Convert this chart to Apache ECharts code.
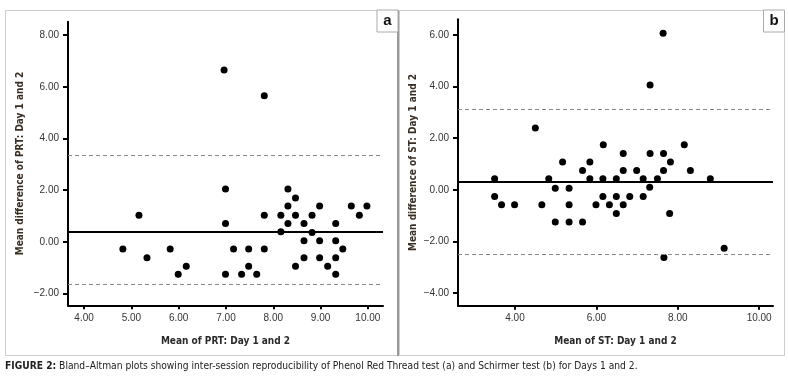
<!DOCTYPE html>
<html>
<head>
<meta charset="utf-8">
<title>Bland–Altman plots</title>
<script src="https://cdn.jsdelivr.net/npm/echarts@6/dist/echarts.min.js"></script>
<style>
  html, body { margin: 0; padding: 0; background: #fff; }
  #chart { width: 788px; height: 382px; }
</style>
</head>
<body>
<div id="chart"></div>
<script>
// Panel a: Phenol Red Thread test
const prtMean = [4.82, 5.16, 5.33, 5.82, 5.99, 6.16, 6.96, 7.81, 6.99, 6.99, 6.99, 7.16, 7.33, 7.48, 7.48,
  7.65, 7.81, 7.81, 8.16, 8.16, 8.31, 8.31, 8.31, 8.47, 8.47, 8.47, 8.65, 8.65, 8.65, 8.82, 8.82,
  8.98, 8.98, 8.98, 9.15, 9.32, 9.32, 9.32, 9.32, 9.47, 9.65, 9.82, 9.98];
const prtDiff = [-0.28, 1.03, -0.62, -0.28, -1.26, -0.95, 6.65, 5.65, 2.04, 0.71, -1.26, -0.28, -1.26, -0.28, -0.95,
  -1.26, 1.03, -0.28, 1.03, 0.39, 2.04, 1.38, 0.71, 1.69, 1.03, -0.95, 0.71, 0.04, -0.62, 1.03, 0.36,
  1.38, 0.04, -0.62, -0.95, 0.71, 0.04, -0.62, -1.26, -0.28, 1.38, 1.03, 1.38];
const prtBias = 0.39;
const prtLimits = [3.36, -1.65];
const prtXTicks = [4, 5, 6, 7, 8, 9, 10];
const prtYTicks = [-2, 0, 2, 4, 6, 8];

// Panel b: Schirmer test
const stMean = [7.64, 7.32, 4.50, 6.17, 8.16, 6.66, 7.32, 7.65, 5.17, 5.84, 7.82, 5.66, 6.66, 6.99, 7.65,
  8.31, 3.50, 4.83, 5.84, 6.16, 6.49, 7.15, 7.50, 8.80, 7.31, 4.99, 5.33, 3.50, 6.16, 6.49, 6.82,
  7.15, 3.67, 3.99, 4.66, 5.33, 5.99, 6.32, 6.66, 6.49, 7.80, 4.99, 5.33, 5.66, 9.14, 7.66];
const stDiff = [6.07, 4.06, 2.40, 1.75, 1.75, 1.41, 1.41, 1.41, 1.08, 1.08, 1.08, 0.75, 0.75, 0.75, 0.75,
  0.75, 0.43, 0.43, 0.43, 0.43, 0.43, 0.43, 0.43, 0.43, 0.10, 0.06, 0.06, -0.26, -0.26, -0.26, -0.26,
  -0.26, -0.58, -0.58, -0.58, -0.58, -0.58, -0.58, -0.58, -0.92, -0.92, -1.25, -1.25, -1.25, -2.26, -2.62];
const stBias = 0.32;
const stLimits = [3.12, -2.49];
const stXTicks = [4, 6, 8, 10];
const stYTicks = [-4, -2, 0, 2, 4, 6];

const xTitles = ['Mean of PRT: Day 1 and 2', 'Mean of ST: Day 1 and 2'];
const yTitles = ['Mean difference of PRT: Day 1 and 2', 'Mean difference of ST: Day 1 and 2'];
const caption = 'Bland\u2013Altman plots showing inter-session reproducibility of Phenol Red Thread test (a) and Schirmer test (b) for Days 1 and 2.';

const FONT = "'Liberation Sans Narrow', 'DejaVu Sans Condensed', 'Liberation Sans', sans-serif";
const LABEL_FONT = "'Liberation Sans', sans-serif";

function pairs(xs, ys) {
  return xs.map((x, i) => [x, ys[i]]);
}

function xAxisFor(idx, min, max, ticks) {
  return {
    gridIndex: idx,
    type: 'value',
    min: min,
    max: max,
    name: xTitles[idx],
    nameLocation: 'middle',
    nameGap: 31,
    nameTextStyle: { color: '#2a2a2a', fontSize: 10, fontWeight: 'bold', fontFamily: FONT },
    axisLine: { show: true, onZero: false, lineStyle: { color: '#000', width: 2 } },
    axisTick: { show: true, length: 4, customValues: ticks, lineStyle: { color: '#000', width: 2 } },
    axisLabel: {
      customValues: ticks,
      margin: 8,
      color: '#333',
      fontSize: 10,
      fontFamily: LABEL_FONT,
      formatter: v => v.toFixed(2)
    },
    splitLine: { show: false }
  };
}

function yAxisFor(idx, min, max, ticks, gap) {
  return {
    gridIndex: idx,
    type: 'value',
    min: min,
    max: max,
    name: yTitles[idx],
    nameLocation: 'middle',
    nameGap: gap,
    nameRotate: 90,
    nameTextStyle: { color: '#3a2f25', fontSize: 10, fontWeight: 'bold', fontFamily: FONT },
    axisLine: { show: true, onZero: false, lineStyle: { color: '#000', width: 2 } },
    axisTick: { show: true, length: 5, customValues: ticks, lineStyle: { color: '#000', width: 2 } },
    axisLabel: {
      customValues: ticks,
      margin: 9,
      color: '#333',
      fontSize: 10,
      fontFamily: LABEL_FONT,
      formatter: v => (v < 0 ? '\u2212' + Math.abs(v).toFixed(2) : v.toFixed(2))
    },
    splitLine: { show: false }
  };
}

function scatterFor(idx, data, bias, limits) {
  return {
    type: 'scatter',
    xAxisIndex: idx,
    yAxisIndex: idx,
    data: data,
    symbolSize: 7,
    itemStyle: { color: '#000', opacity: 1 },
    silent: true,
    markLine: {
      silent: true,
      symbol: 'none',
      label: { show: false },
      animation: false,
      data: [
        { yAxis: bias, lineStyle: { color: '#000', width: 2, type: 'solid' } },
        { yAxis: limits[0], lineStyle: { color: '#888', width: 1, type: [4, 3] } },
        { yAxis: limits[1], lineStyle: { color: '#888', width: 1, type: [4, 3] } }
      ]
    }
  };
}

function panelLabel(x, text) {
  return {
    type: 'group',
    children: [
      { type: 'rect', shape: { x: x, y: 10, width: 21, height: 22 },
        style: { fill: '#fff', stroke: '#aaa', lineWidth: 1 } },
      { type: 'text', x: x + 10.5, y: 21,
        style: { text: text, fill: '#111', font: 'bold 15px ' + LABEL_FONT, align: 'center', verticalAlign: 'middle' } }
    ]
  };
}

const chart = echarts.init(document.getElementById('chart'), null, { renderer: 'canvas' });

chart.setOption({
  animation: false,
  backgroundColor: '#fff',
  grid: [
    { left: 68, top: 21.7, width: 315, height: 283.6 },
    { left: 458, top: 19.3, width: 315, height: 286.4 }
  ],
  xAxis: [
    xAxisFor(0, 3.66, 10.32, prtXTicks),
    xAxisFor(1, 2.60, 10.34, stXTicks)
  ],
  yAxis: [
    yAxisFor(0, -2.46, 8.52, prtYTicks, 43),
    yAxisFor(1, -4.49, 6.61, stYTicks, 40)
  ],
  series: [
    scatterFor(0, pairs(prtMean, prtDiff), prtBias, prtLimits),
    scatterFor(1, pairs(stMean, stDiff), stBias, stLimits)
  ],
  graphic: [
    { type: 'rect', z: -10, shape: { x: 5.5, y: 10.5, width: 392, height: 345 },
      style: { fill: 'none', stroke: '#ccc', lineWidth: 1 } },
    { type: 'rect', z: -10, shape: { x: 399.5, y: 10.5, width: 385, height: 345 },
      style: { fill: 'none', stroke: '#ccc', lineWidth: 1 } },
    { type: 'line', z: -9, shape: { x1: 398, y1: 10, x2: 398, y2: 356 },
      style: { stroke: '#999', lineWidth: 2 } },
    panelLabel(377, 'a'),
    panelLabel(763.5, 'b'),
    { type: 'text', x: 5, y: 366,
      style: {
        text: '{b|FIGURE 2:} ' + caption,
        rich: {
          b: { font: 'bold 10.2px ' + FONT, fill: '#222' }
        },
        font: '10.2px ' + FONT,
        fill: '#222',
        verticalAlign: 'middle'
      } }
  ]
});

window.addEventListener('resize', function () {
  chart.resize();
});
</script>
</body>
</html>
